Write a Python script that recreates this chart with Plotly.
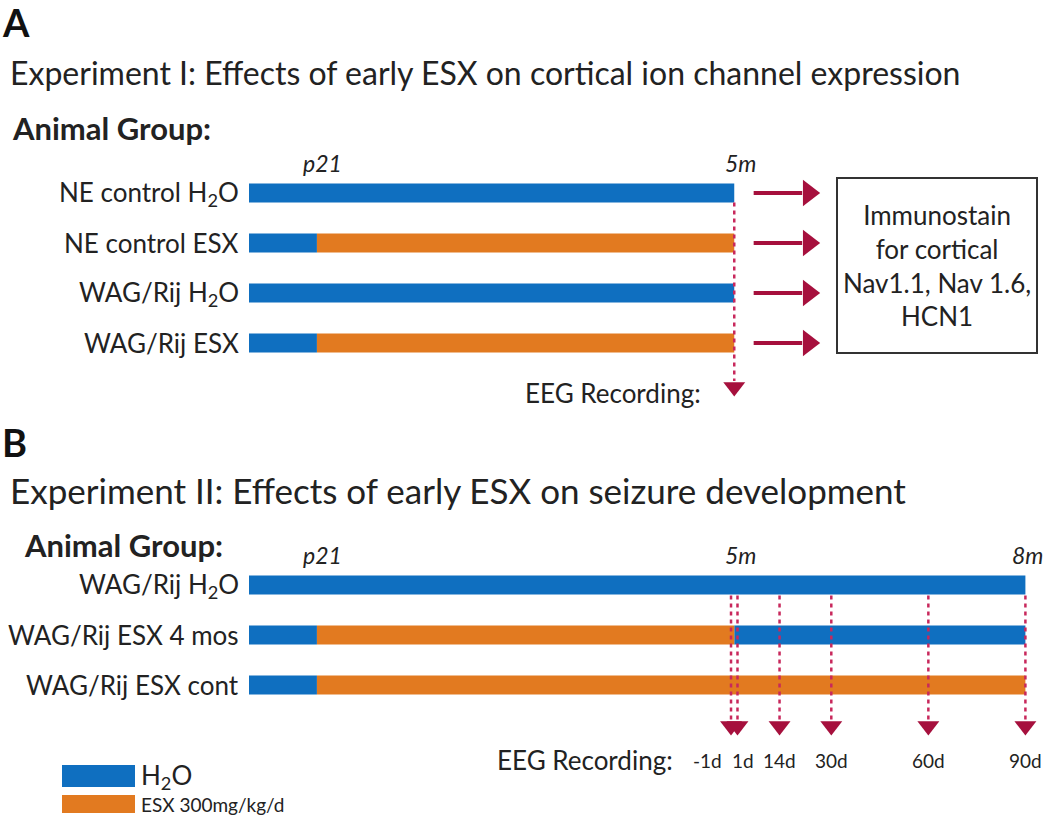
import plotly.graph_objects as go

# ---------------- data ----------------
BLUE = "#0f6fc0"
ORANGE = "#e27a20"
RED = "#a6103d"
DASH = "#c8285c"
FONT = "Lato"

treat_names = ["H2O", "ESX"]
treat_colors = {"H2O": BLUE, "ESX": ORANGE}

groups_a = ["NE control H<sub>2</sub>O", "NE control ESX", "WAG/Rij H<sub>2</sub>O", "WAG/Rij ESX"]
seg_a_treat = [["H2O"], ["H2O", "ESX"], ["H2O"], ["H2O", "ESX"]]
seg_a_start = [[0], [0, 21], [0], [0, 21]]
seg_a_end = [[150], [21, 150], [150], [21, 150]]

groups_b = ["WAG/Rij H<sub>2</sub>O", "WAG/Rij ESX 4 mos", "WAG/Rij ESX cont"]
seg_b_treat = [["H2O"], ["H2O", "ESX", "H2O"], ["H2O", "ESX"]]
seg_b_start = [[0], [0, 21, 150], [0, 21]]
seg_b_end = [[240], [21, 150, 240], [21, 240]]

milestones_a_days = [21, 150]
milestones_a_labels = ["p21", "5m"]
milestones_b_days = [21, 150, 240]
milestones_b_labels = ["p21", "5m", "8m"]

eeg_a_days = [150]
eeg_b_onset = 150
eeg_b_offsets = [-1, 1, 14, 30, 60, 90]
eeg_b_labels = ["-1d", "1d", "14d", "30d", "60d", "90d"]

outcome_lines = ["Immunostain", "for cortical", "Nav1.1, Nav 1.6,", "HCN1"]
legend_labels = ["H<sub>2</sub>O", "ESX 300mg/kg/d"]

# ---------------- layout helpers ----------------
W, H = 1050, 819
X0_PX, PX_PER_DAY = 249, 3.235
xrange_ = [-X0_PX / PX_PER_DAY, (W - X0_PX) / PX_PER_DAY]


def py(px):
    return 1 - px / H


BAR_W = 0.38
TXT = "#222"

fig = go.Figure()


def add_panel(groups, seg_t, seg_s, seg_e, xa, ya):
    for t in treat_names:
        xs, bs, ys = [], [], []
        for i in range(len(groups)):
            for tt, s, e in zip(seg_t[i], seg_s[i], seg_e[i]):
                if tt == t:
                    xs.append(e - s)
                    bs.append(s)
                    ys.append(i)
        fig.add_trace(go.Bar(x=xs, base=bs, y=ys, orientation="h", width=BAR_W,
                             marker=dict(color=treat_colors[t], line=dict(width=0)),
                             xaxis=xa, yaxis=ya, showlegend=False, hoverinfo="skip"))


add_panel(groups_a, seg_a_treat, seg_a_start, seg_a_end, "x", "y")
add_panel(groups_b, seg_b_treat, seg_b_start, seg_b_end, "x2", "y2")

ann = []
shapes = []


def A(**kw):
    kw.setdefault("showarrow", False)
    kw.setdefault("yanchor", "middle")
    ann.append(kw)


# row labels
for i, g in enumerate(groups_a):
    A(x=0, y=i, xref="x", yref="y", text=g, xanchor="right", xshift=-8, font=dict(size=26, color=TXT))
for i, g in enumerate(groups_b):
    A(x=0, y=i, xref="x2", yref="y2", text=g, xanchor="right", xshift=-8, font=dict(size=26, color=TXT))

# milestones
for d, lab in zip(milestones_a_days, milestones_a_labels):
    A(x=d, y=-0.6, xref="x", yref="y", text="<i>" + lab + "</i>", xanchor="center",
      xshift=6, font=dict(size=23, color=TXT))
for d, lab in zip(milestones_b_days, milestones_b_labels):
    A(x=d, y=-0.6, xref="x2", yref="y2", text="<i>" + lab + "</i>", xanchor="center",
      xshift=6 if lab != "8m" else 2, font=dict(size=23, color=TXT))

# EEG panel A
for d in eeg_a_days:
    fig.add_trace(go.Scatter(x=[d, d], y=[BAR_W / 2, 3.76], mode="lines", xaxis="x", yaxis="y",
                             line=dict(color=DASH, width=2.5, dash="4px,4px"), showlegend=False,
                             hoverinfo="skip"))
    fig.add_trace(go.Scatter(x=[d], y=[3.88], mode="markers", xaxis="x", yaxis="y",
                             marker=dict(symbol="triangle-down", size=19, color=RED),
                             showlegend=False, hoverinfo="skip"))
A(x=eeg_a_days[0], y=4.0, xref="x", yref="y", text="EEG Recording:", xanchor="right", xshift=-31,
  font=dict(size=26, color=TXT))

# horizontal arrows to the outcome box (panel A)
arrow_tail, arrow_tip = 156, 171
for i in range(len(groups_a)):
    fig.add_trace(go.Scatter(x=[arrow_tail, arrow_tip], y=[i, i], mode="lines", xaxis="x", yaxis="y",
                             line=dict(color=RED, width=4), showlegend=False, hoverinfo="skip"))
    fig.add_trace(go.Scatter(x=[arrow_tip + 2], y=[i], mode="markers", xaxis="x", yaxis="y",
                             marker=dict(symbol="triangle-right", size=23, color=RED),
                             showlegend=False, hoverinfo="skip"))

# outcome box
shapes.append(dict(type="rect", xref="paper", yref="paper", x0=837 / W, x1=1037 / W,
                   y0=py(353), y1=py(178), line=dict(color="#333", width=2)))
A(x=937 / W, y=py(266), xref="paper", yref="paper", text="<br>".join(outcome_lines),
  xanchor="center", align="center", font=dict(size=26, color=TXT))

# EEG panel B
for off, lab in zip(eeg_b_offsets, eeg_b_labels):
    d = eeg_b_onset + off
    fig.add_trace(go.Scatter(x=[d, d], y=[BAR_W / 2 + 0.02, 2.7], mode="lines", xaxis="x2", yaxis="y2",
                             line=dict(color=DASH, width=2.5, dash="4px,4px"), showlegend=False,
                             hoverinfo="skip"))
    fig.add_trace(go.Scatter(x=[d], y=[2.82], mode="markers", xaxis="x2", yaxis="y2",
                             marker=dict(symbol="triangle-down", size=19, color=RED),
                             showlegend=False, hoverinfo="skip"))
    A(x=d, y=3.5, xref="x2", yref="y2", text=lab, xanchor="center",
      xshift=(-24 if off == -1 else (6 if off == 1 else 0)), font=dict(size=19, color=TXT))
A(x=eeg_b_onset, y=3.5, xref="x2", yref="y2", text="EEG Recording:", xanchor="right", xshift=-59,
  font=dict(size=26, color=TXT))

# panel titles
A(x=0, y=py(22), xref="paper", yref="paper", text="<b>A</b>", xanchor="left", font=dict(size=38, color="#111"))
A(x=8 / W, y=py(72), xref="paper", yref="paper",
  text="Experiment I: Effects of early ESX on cortical ion channel expression",
  xanchor="left", font=dict(size=32, color=TXT))
A(x=10 / W, y=py(128), xref="paper", yref="paper", text="<b>Animal Group:</b>", xanchor="left",
  font=dict(size=31, color=TXT))
A(x=0, y=py(442), xref="paper", yref="paper", text="<b>B</b>", xanchor="left", font=dict(size=38, color="#111"))
A(x=8 / W, y=py(490), xref="paper", yref="paper",
  text="Experiment II: Effects of early ESX on seizure development",
  xanchor="left", font=dict(size=35, color=TXT))
A(x=22 / W, y=py(545), xref="paper", yref="paper", text="<b>Animal Group:</b>", xanchor="left",
  font=dict(size=31, color=TXT))

# legend
leg_colors = [BLUE, ORANGE]
leg_y = [(765, 787), (795, 813)]
leg_size = [26, 19]
for c, (a, b), lab, fs in zip(leg_colors, leg_y, legend_labels, leg_size):
    shapes.append(dict(type="rect", xref="paper", yref="paper", x0=62 / W, x1=135 / W,
                       y0=py(b), y1=py(a), fillcolor=c, line=dict(width=0)))
    A(x=139 / W, y=py((a + b) / 2), xref="paper", yref="paper", text=lab,
      xanchor="left", font=dict(size=fs, color=TXT))

ax_common = dict(visible=False, range=xrange_, domain=[0, 1], fixedrange=True)
fig.update_layout(
    width=W, height=H,
    margin=dict(l=0, r=0, t=0, b=0),
    paper_bgcolor="white", plot_bgcolor="white",
    barmode="overlay",
    font=dict(family=FONT, color=TXT),
    xaxis=dict(**ax_common, anchor="y"),
    xaxis2=dict(**ax_common, anchor="y2"),
    yaxis=dict(visible=False, domain=[py(410), py(150)], range=[(410 - 193) / 50, (150 - 193) / 50],
               anchor="x", fixedrange=True),
    yaxis2=dict(visible=False, domain=[py(770), py(540)], range=[(770 - 585) / 50, (540 - 585) / 50],
                anchor="x2", fixedrange=True),
    annotations=ann,
    shapes=shapes,
)

fig.write_html("out.html", config={"displayModeBar": False},
               post_script="document.body.style.margin='0';document.body.style.overflow='hidden';")
